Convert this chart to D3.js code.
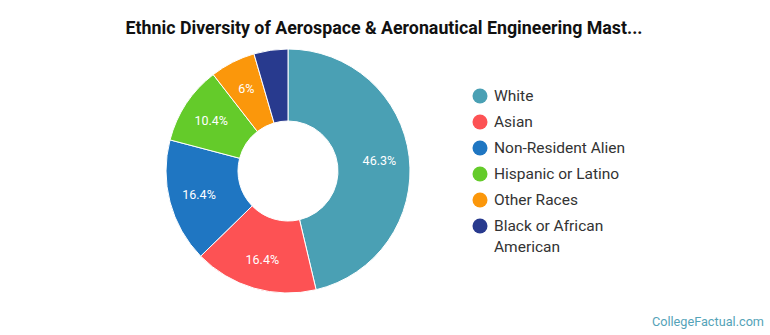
<!DOCTYPE html>
<html>
<head>
<meta charset="utf-8">
<script src="https://cdn.jsdelivr.net/npm/d3@7"></script>
<style>
  body { margin: 0; background: #fff; }
  svg text { font-family: Roboto, "Open Sans", sans-serif; }
</style>
</head>
<body>
<svg id="chart" width="770" height="335"></svg>
<script>
// data
var categories = ["White", "Asian", "Non-Resident Alien", "Hispanic or Latino", "Other Races", "Black or African American"];
var shares = [46.3, 16.4, 16.4, 10.4, 6, 4.5];
var sliceLabels = ["46.3%", "16.4%", "16.4%", "10.4%", "6%", ""];
var colors = ["#4aa0b4", "#fd5254", "#1f76c2", "#64cb2a", "#fb970b", "#283a8e"];

var width = 770, height = 335;
var cx = 288, cy = 171,
    outer = 122, inner = 50;

var svg = d3.select("#chart");

svg.append("text")
  .attr("x", 384).attr("y", 34)
  .attr("text-anchor", "middle")
  .attr("font-size", "17.8px")
  .attr("font-weight", "bold")
  .attr("fill", "#111")
  .text("Ethnic Diversity of Aerospace & Aeronautical Engineering Mast...");

var pie = d3.pie().sort(null).value(function(d) { return d; });
var arc = d3.arc().innerRadius(inner).outerRadius(outer);
var labelArc = d3.arc().innerRadius(inner + 42).outerRadius(inner + 42);

var g = svg.append("g").attr("transform", "translate(" + cx + "," + cy + ")");

var arcs = pie(shares);

g.selectAll("path")
  .data(arcs)
  .enter().append("path")
  .attr("d", arc)
  .attr("fill", function(d, i) { return colors[i]; })
  .attr("stroke", "#fff")
  .attr("stroke-width", 1);

g.selectAll("text.lbl")
  .data(arcs)
  .enter().append("text")
  .attr("class", "lbl")
  .attr("transform", function(d) { return "translate(" + labelArc.centroid(d) + ")"; })
  .attr("text-anchor", "middle")
  .attr("dy", "0.35em")
  .attr("font-size", "12.5px")
  .attr("fill", "#fff")
  .text(function(d, i) { return sliceLabels[i]; });

// legend
var legendY = d3.scalePoint().domain(categories).range([96, 226]);
var leg = svg.append("g");
categories.forEach(function(c, i) {
  var y = legendY(c);
  leg.append("circle")
    .attr("cx", 480).attr("cy", y).attr("r", 7.5)
    .attr("fill", colors[i]);
  var t = leg.append("text")
    .attr("x", 494).attr("y", y)
    .attr("dy", "0.35em")
    .attr("font-size", "15.5px")
    .attr("fill", "#333");
  if (c === "Black or African American") {
    t.append("tspan").attr("x", 494).text("Black or African");
    t.append("tspan").attr("x", 494).attr("dy", "1.3em").text("American");
  } else {
    t.text(c);
  }
});

svg.append("text")
  .attr("x", 764).attr("y", 326)
  .attr("text-anchor", "end")
  .attr("font-size", "12.7px")
  .attr("fill", "#55a3b8")
  .text("CollegeFactual.com");
</script>
</body>
</html>
